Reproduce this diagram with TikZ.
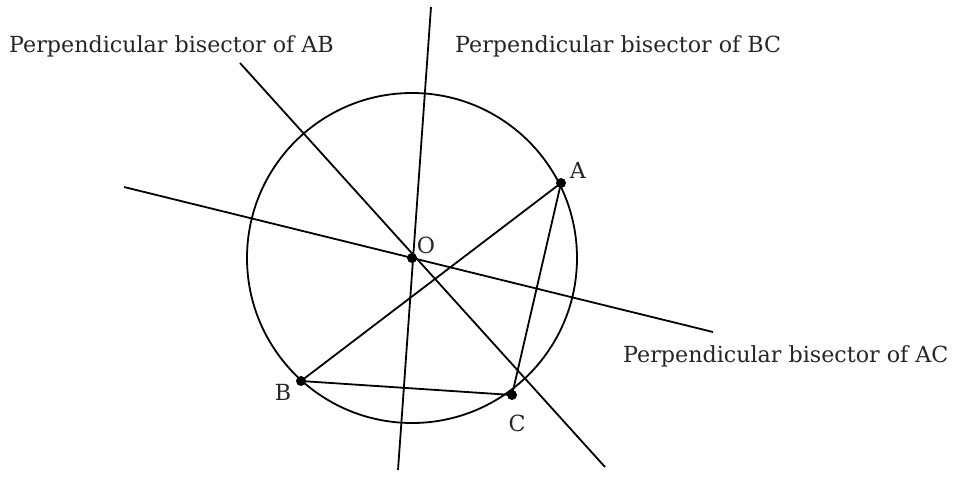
\documentclass[tikz,border=0pt]{standalone}
\usepackage{fontspec}
\setmainfont{DejaVu Serif}
\begin{document}
\begin{tikzpicture}[x=1pt,y=-1pt,
  seg/.style={line width=1.8pt,black},
  dot/.style={circle,fill=black,inner sep=0pt,minimum size=10pt},
  lbl/.style={font=\fontsize{22.2}{25}\selectfont,inner sep=0pt,text=black!85},
  pt/.style={font=\fontsize{22.2}{25}\selectfont,inner sep=0pt,text=black!85}]
\useasboundingbox (0,0) rectangle (953,477);
% points
\node[dot] (O) at (412,258) {};
\node[dot] (A) at (561,183) {};
\node[dot] (B) at (301,381) {};
\node[dot] (C) at (512,395) {};
% circle
\draw[seg] (O.center) circle[radius=165];
% triangle
\draw[seg] (A.center) -- (B.center) -- (C.center) -- cycle;
% bisector ends
\coordinate (ab1) at (240,63);
\coordinate (ab2) at (605,467);
\coordinate (bc1) at (431,7);
\coordinate (bc2) at (398,470);
\coordinate (ac1) at (124,187);
\coordinate (ac2) at (713,332);
\draw[seg] (ab1) -- (ab2);
\draw[seg] (bc1) -- (bc2);
\draw[seg] (ac1) -- (ac2);
% point labels
\node[pt] (lA) at (578,170) {A};
\node[pt] (lO) at (426,245) {O};
\node[pt] (lB) at (283,392) {B};
\node[pt] (lC) at (517,423) {C};
% bisector labels
\node[lbl,anchor=base west] (tAB) at (9,52) {Perpendicular bisector of AB};
\node[lbl,anchor=base west] (tBC) at (455,52) {Perpendicular bisector of BC};
\node[lbl,anchor=base west] (tAC) at (623,362) {Perpendicular bisector of AC};
\end{tikzpicture}
\end{document}
